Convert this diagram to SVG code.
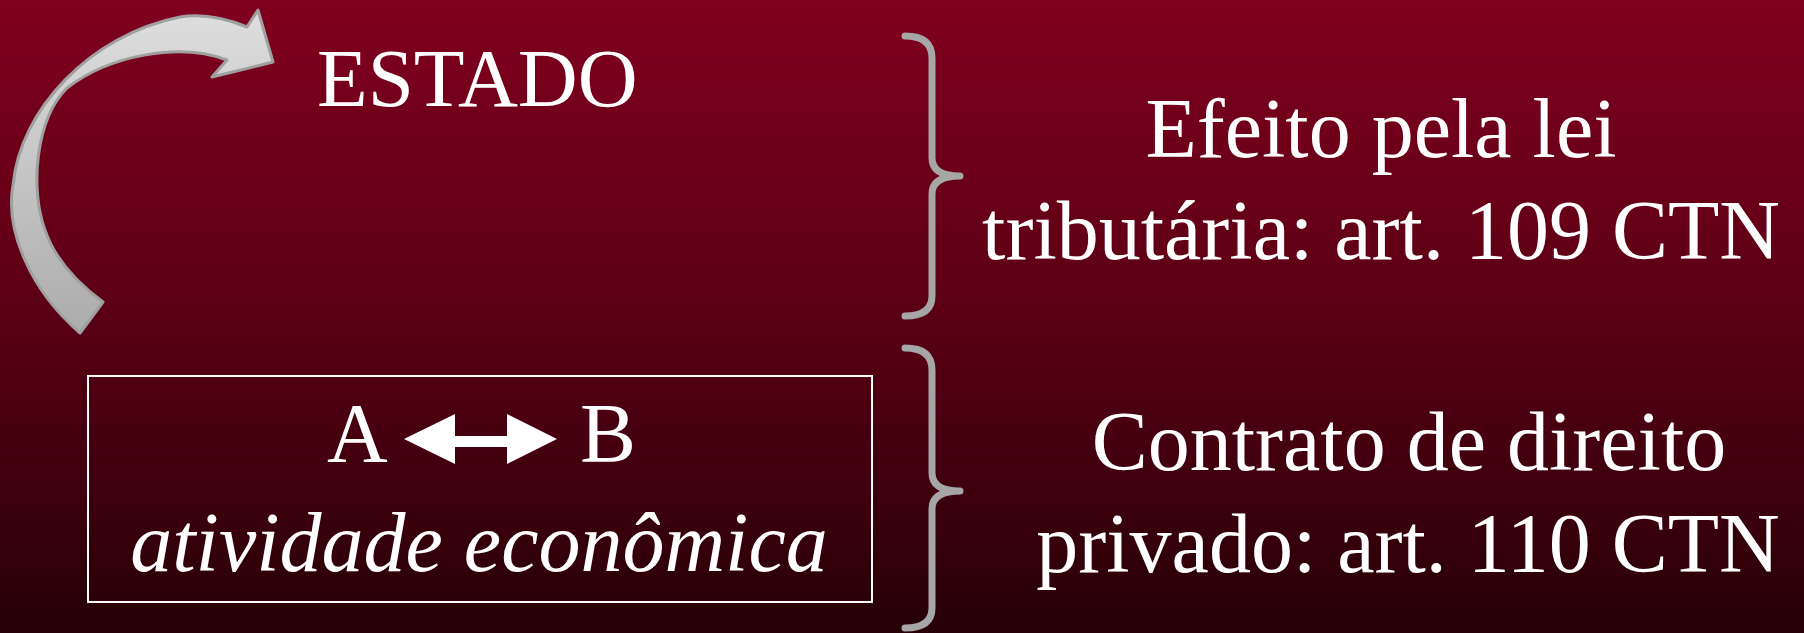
<svg xmlns="http://www.w3.org/2000/svg" width="1804" height="633" viewBox="0 0 1804 633">
<defs>
<linearGradient id="bg" x1="0" y1="0" x2="0" y2="1">
<stop offset="0" stop-color="#80001e"/>
<stop offset="0.5" stop-color="#5a0014"/>
<stop offset="1" stop-color="#260006"/>
</linearGradient>
<linearGradient id="arr" x1="0" y1="0" x2="0" y2="1">
<stop offset="0" stop-color="#dedede"/>
<stop offset="1" stop-color="#acacac"/>
</linearGradient>
<style>
.t{font-family:"Liberation Serif","Times New Roman",serif;font-size:84px;fill:#fff}
.i{font-style:italic}
.brace{fill:none;stroke:#a6a6a6;stroke-width:7;stroke-linecap:round;stroke-linejoin:round}
</style>
</defs>
<rect x="0" y="0" width="1804" height="633" fill="url(#bg)"/>
<g id="curved-arrow">
<path d="M 80,333 C 30,290 5,230 13,185 C 20,110 90,35 180,17 C 205,13 230,20 247,27 L 258,10 L 273,62 L 212,77 L 227,60 C 180,42 110,55 67,88 C 35,120 30,190 45,230 C 55,260 80,285 103,302 Z" fill="url(#arr)" stroke="#a0a0a0" stroke-width="3" stroke-linejoin="round"/>
</g>
<g id="estado">
<text class="t" x="317" y="106" font-size="83" style="font-size:83px">ESTADO</text>
</g>
<g id="box">
<rect x="88" y="376" width="784" height="226" fill="none" stroke="#fff" stroke-width="2"/>
<text class="t" x="327" y="462">A</text>
<text class="t" x="580" y="462">B</text>
<path d="M 404,439 L 455,414 L 455,436 L 507,436 L 507,414 L 557,439 L 507,464 L 507,447 L 455,447 L 455,464 Z" fill="#fff"/>
<text class="t i" x="479" y="571" text-anchor="middle">atividade econômica</text>
</g>
<g id="connectors">
<path class="brace" d="M 905,36 Q 932,36 932,58 L 932,158 Q 932,176 960,176 Q 932,176 932,194 L 932,296 Q 932,316 905,316"/>
<path class="brace" d="M 905,348 Q 932,348 932,370 L 932,473 Q 932,491 960,491 Q 932,491 932,509 L 932,608 Q 932,628 905,628"/>
</g>
<g id="label-lei">
<text class="t" x="1381" y="157" text-anchor="middle">Efeito pela lei</text>
<text class="t" x="1381" y="259" text-anchor="middle">tributária: art. 109 CTN</text>
</g>
<g id="label-contrato">
<text class="t" x="1409" y="470" text-anchor="middle">Contrato de direito</text>
<text class="t" x="1408" y="572" text-anchor="middle">privado: art. 110 CTN</text>
</g>
</svg>
